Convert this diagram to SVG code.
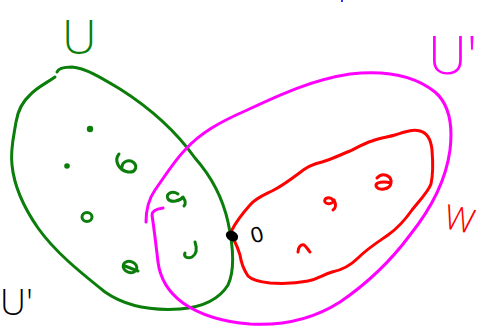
<svg xmlns="http://www.w3.org/2000/svg" width="483" height="326" viewBox="0 0 483 326">
<style>
.s{fill:none;stroke-width:3;stroke-linecap:round;stroke-linejoin:round}
.g{stroke:#0a7d0a}
.m{stroke:#ff00ff}
.r{stroke:#ff0000}
.lbl{font-family:"Open Sans","Liberation Sans",sans-serif;font-weight:300}
</style>
<rect width="483" height="326" fill="#fff"/>
<g id="set-U">
<path class="s g" d="M55,77 C45,84 36,88 30,95 C22,102 18,110 16,122 C14,135 10,150 12,165 C14,185 22,205 38,228 C55,252 80,272 105,292 C125,306 150,311 180,309 C205,307 220,298 228,285 C235,270 233,245 228,222 C222,195 210,175 195,158 C175,130 150,108 120,89 C100,77 85,68 72,67 C63,67 58,69 57,72"/>
<text class="lbl" x="62" y="54" font-size="48" fill="#0a7d0a">U</text>
<circle cx="90" cy="129" r="3.2" fill="#0a7d0a"/>
<circle cx="67" cy="166" r="2.8" fill="#0a7d0a"/>
<path class="s g" d="M119,154 C114,160 118,170 128,172 C136,173 138,166 133,162 C128,159 122,162 122,167"/>
<ellipse class="s g" cx="87" cy="217" rx="5" ry="4.5"/>
<path class="s g" d="M178,194 C172,190 165,194 168,199 C171,203 180,201 183,197 C185,200 186,204 184,206"/>
<path class="s g" d="M195,242 C197,248 197,254 192,257 C188,259 183,257 185,253"/>
<ellipse class="s g" cx="130" cy="267" rx="7" ry="5.5" transform="rotate(20 130 267)"/>
<path class="s g" d="M125,266 C130,268 135,270 138,271"/>
</g>
<g id="set-U-prime">
<path class="s m" d="M146,222 C146,210 148,200 155,190 C165,176 175,160 185,150 C200,133 220,122 245,111 C275,97 310,80 350,74 C385,70 415,76 435,92 C450,105 453,125 450,150 C446,180 430,210 410,235 C390,262 365,285 340,302 C315,318 285,326 250,324 C225,322 200,315 183,303 C168,292 160,278 158,262 C156,245 154,228 152,215 C152,211 156,209 163,208"/>
<text class="lbl" x="428" y="74" font-size="54" fill="#ff00ff">U'</text>
</g>
<g id="set-W">
<path class="s r" d="M232,230 C236,222 242,214 250,205 C256,198 264,195 272,191 C282,186 290,180 298,174 C305,168 312,164 322,162 C332,159 340,155 350,151 C358,147 365,143 372,141 C380,138 388,137 395,135 C405,132 412,129 420,131 C428,133 431,140 432,150 C433,162 433,175 431,184 C428,192 420,200 412,210 C405,220 398,228 388,235 C378,242 368,248 358,258 C350,266 342,270 332,272 C322,275 318,279 308,281 C298,283 285,284 270,283 C260,282 252,280 248,276 C244,270 241,262 240,255 C238,248 236,244 234,240"/>
<text class="lbl" font-size="34" fill="#ff0000" text-anchor="middle" transform="translate(457,231) rotate(12)">W</text>
<path class="s r" d="M377,178 C382,172 392,175 391,183 C390,190 378,191 376,186 C375,182 384,181 391,183"/>
<path class="s r" d="M333,200 C330,196 323,198 325,202 C327,205 333,204 334,200 C336,204 336,208 333,210"/>
<path class="s r" d="M298,252 C298,247 301,244 304,245 C307,247 308,250 310,252"/>
</g>
<g id="point-0">
<ellipse cx="232" cy="236" rx="6.5" ry="5" transform="rotate(30 232 236)" fill="#000"/>
<text font-family="'Liberation Sans',sans-serif" font-size="22" fill="#000" text-anchor="middle" transform="translate(259,242) rotate(-15)">0</text>
</g>
<g id="label-U-prime-black">
<text class="lbl" x="0" y="315" font-size="36" fill="#000">U'</text>
</g>
<rect x="341" y="0" width="2" height="2" fill="#3333ff"/>
</svg>
